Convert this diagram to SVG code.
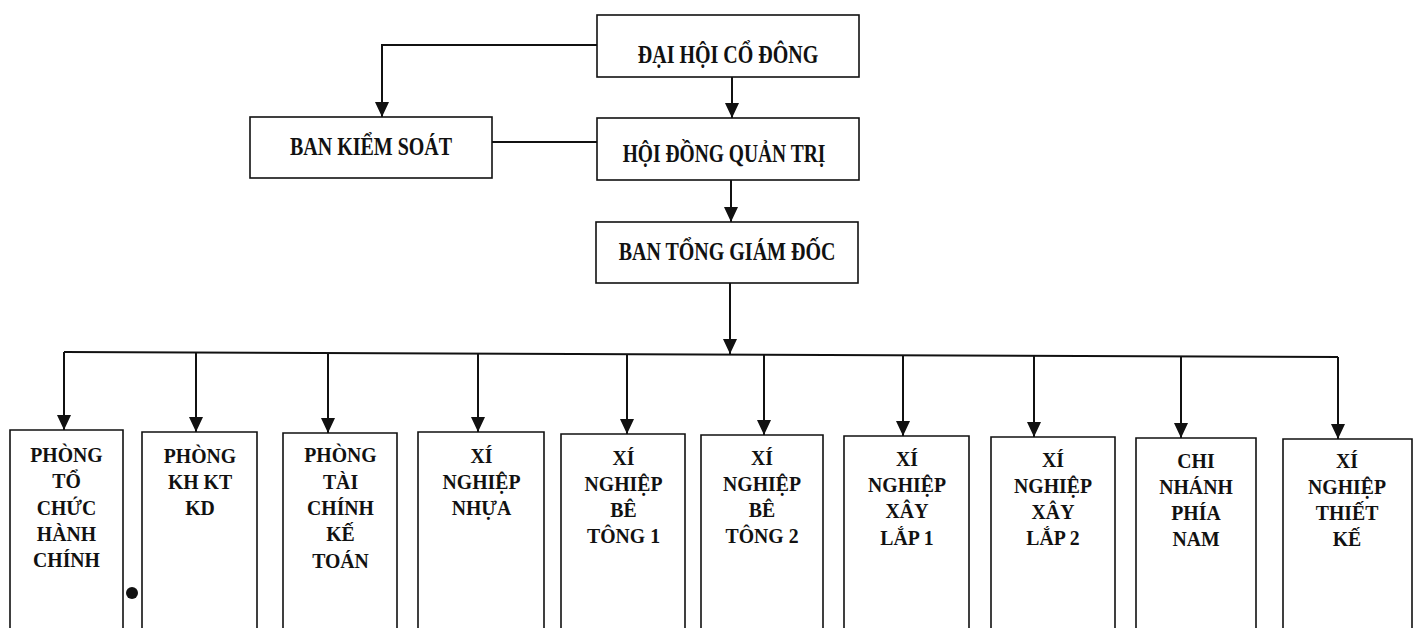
<svg xmlns="http://www.w3.org/2000/svg" width="1421" height="628" viewBox="0 0 1421 628">
<style>
.box{fill:#fff;stroke:#111;stroke-width:1.6}
.obox{fill:none;stroke:#111;stroke-width:1.6}
.ln{fill:none;stroke:#111;stroke-width:2}
.t{font-family:"Liberation Serif","Times New Roman",serif;font-weight:bold;fill:#111;text-anchor:middle}
.tt{font-size:25px}
.bt{font-size:21.5px}
</style>
<defs>
<marker id="ah" markerUnits="userSpaceOnUse" markerWidth="15" markerHeight="14" refX="15" refY="7" orient="auto" viewBox="0 0 15 14">
<path d="M0,0 L15,7 L0,14 z" fill="#111"/>
</marker>
</defs>
<rect width="1421" height="628" fill="#fff"/>
<g id="connectors">
<path class="ln" d="M597,45 H382 V117" marker-end="url(#ah)"/>
<path class="ln" d="M732,77 V118" marker-end="url(#ah)"/>
<path class="ln" d="M492,142 H597"/>
<path class="ln" d="M731,180 V222" marker-end="url(#ah)"/>
<path class="ln" d="M730,283 V354" marker-end="url(#ah)"/>
<path class="ln" d="M64,352 L1338,357"/>
<path class="ln" d="M64,352 V430" marker-end="url(#ah)"/>
<path class="ln" d="M196,352.5 V432" marker-end="url(#ah)"/>
<path class="ln" d="M328,353 V433" marker-end="url(#ah)"/>
<path class="ln" d="M478,353.5 V432" marker-end="url(#ah)"/>
<path class="ln" d="M627,354 V434" marker-end="url(#ah)"/>
<path class="ln" d="M764,354.5 V435" marker-end="url(#ah)"/>
<path class="ln" d="M903,355 V436" marker-end="url(#ah)"/>
<path class="ln" d="M1034,355.5 V437" marker-end="url(#ah)"/>
<path class="ln" d="M1181,356.5 V438" marker-end="url(#ah)"/>
<path class="ln" d="M1338,357 V439" marker-end="url(#ah)"/>
</g>
<g id="dai-hoi-co-dong">
<rect class="box" x="597" y="15" width="262" height="62"/>
<text class="t tt" transform="translate(728,63) scale(0.8,1)" x="0" y="0">ĐẠI HỘI CỔ ĐÔNG</text>
</g>
<g id="ban-kiem-soat">
<rect class="box" x="250" y="117" width="242" height="61"/>
<text class="t tt" transform="translate(371,155) scale(0.8,1)" x="0" y="0">BAN KIỂM SOÁT</text>
</g>
<g id="hoi-dong-quan-tri">
<rect class="box" x="597" y="118" width="262" height="62"/>
<text class="t tt" transform="translate(724,162) scale(0.78,1)" x="0" y="0">HỘI ĐỒNG QUẢN TRỊ</text>
</g>
<g id="ban-tong-giam-doc">
<rect class="box" x="596" y="222" width="262" height="61"/>
<text class="t tt" transform="translate(727,260) scale(0.8,1)" x="0" y="0">BAN TỔNG GIÁM ĐỐC</text>
</g>
<g id="phong-to-chuc-hanh-chinh">
<path class="obox" d="M10,628 V430 H123 V628"/>
<text class="t bt" transform="translate(66.5,0) scale(0.92,1)"><tspan x="0" y="462">PHÒNG</tspan><tspan x="0" y="488.5">TỔ</tspan><tspan x="0" y="515">CHỨC</tspan><tspan x="0" y="541">HÀNH</tspan><tspan x="0" y="567">CHÍNH</tspan></text>
</g>
<g id="phong-kh-kt-kd">
<path class="obox" d="M142,628 V432 H257 V628"/>
<text class="t bt" transform="translate(200,0) scale(0.92,1)"><tspan x="0" y="463">PHÒNG</tspan><tspan x="0" y="489">KH KT</tspan><tspan x="0" y="515">KD</tspan></text>
</g>
<g id="phong-tai-chinh-ke-toan">
<path class="obox" d="M283,628 V433 H397 V628"/>
<text class="t bt" transform="translate(340.5,0) scale(0.92,1)"><tspan x="0" y="462.5">PHÒNG</tspan><tspan x="0" y="489">TÀI</tspan><tspan x="0" y="515">CHÍNH</tspan><tspan x="0" y="541.5">KẾ</tspan><tspan x="0" y="568">TOÁN</tspan></text>
</g>
<g id="xi-nghiep-nhua">
<path class="obox" d="M418,628 V432 H544 V628"/>
<text class="t bt" transform="translate(481.5,0) scale(0.92,1)"><tspan x="0" y="463">XÍ</tspan><tspan x="0" y="489">NGHIỆP</tspan><tspan x="0" y="515">NHỰA</tspan></text>
</g>
<g id="xi-nghiep-be-tong-1">
<path class="obox" d="M561,628 V434 H685 V628"/>
<text class="t bt" transform="translate(623.5,0) scale(0.92,1)"><tspan x="0" y="465">XÍ</tspan><tspan x="0" y="491">NGHIỆP</tspan><tspan x="0" y="517">BÊ</tspan><tspan x="0" y="543">TÔNG 1</tspan></text>
</g>
<g id="xi-nghiep-be-tong-2">
<path class="obox" d="M701,628 V435 H823 V628"/>
<text class="t bt" transform="translate(762,0) scale(0.92,1)"><tspan x="0" y="465.5">XÍ</tspan><tspan x="0" y="491.5">NGHIỆP</tspan><tspan x="0" y="517">BÊ</tspan><tspan x="0" y="543">TÔNG 2</tspan></text>
</g>
<g id="xi-nghiep-xay-lap-1">
<path class="obox" d="M844,628 V436 H969 V628"/>
<text class="t bt" transform="translate(907,0) scale(0.92,1)"><tspan x="0" y="466.5">XÍ</tspan><tspan x="0" y="492.5">NGHIỆP</tspan><tspan x="0" y="518.5">XÂY</tspan><tspan x="0" y="545">LẮP 1</tspan></text>
</g>
<g id="xi-nghiep-xay-lap-2">
<path class="obox" d="M991,628 V437 H1115 V628"/>
<text class="t bt" transform="translate(1053,0) scale(0.92,1)"><tspan x="0" y="467">XÍ</tspan><tspan x="0" y="493">NGHIỆP</tspan><tspan x="0" y="519">XÂY</tspan><tspan x="0" y="545">LẮP 2</tspan></text>
</g>
<g id="chi-nhanh-phia-nam">
<path class="obox" d="M1136,628 V438 H1256 V628"/>
<text class="t bt" transform="translate(1196,0) scale(0.92,1)"><tspan x="0" y="468">CHI</tspan><tspan x="0" y="494">NHÁNH</tspan><tspan x="0" y="520">PHÍA</tspan><tspan x="0" y="546.5">NAM</tspan></text>
</g>
<g id="xi-nghiep-thiet-ke">
<path class="obox" d="M1283,628 V439 H1412 V628"/>
<text class="t bt" transform="translate(1347,0) scale(0.92,1)"><tspan x="0" y="468">XÍ</tspan><tspan x="0" y="494">NGHIỆP</tspan><tspan x="0" y="520.5">THIẾT</tspan><tspan x="0" y="546.5">KẾ</tspan></text>
</g>
<circle cx="132" cy="593" r="6" fill="#111"/>
</svg>
